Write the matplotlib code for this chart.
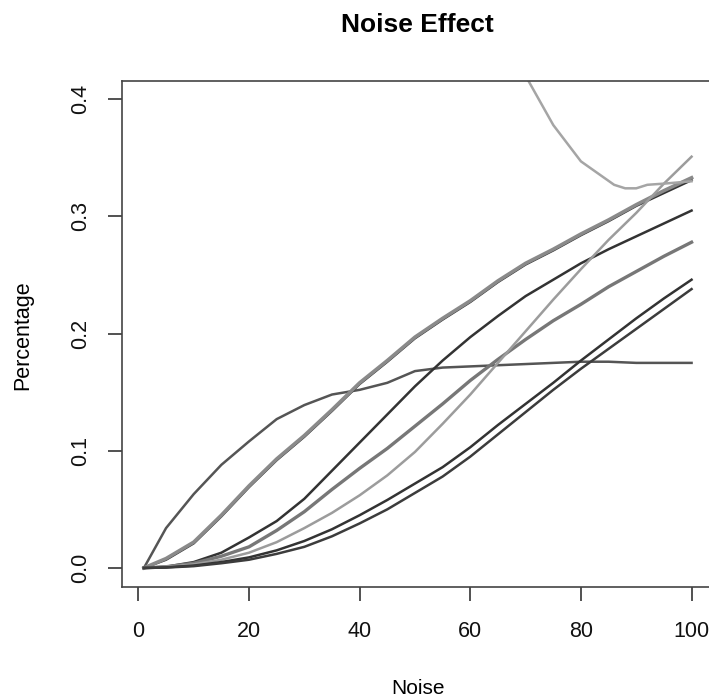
import matplotlib
matplotlib.use("Agg")
import matplotlib.pyplot as plt

plt.rcParams['font.family'] = ['Liberation Sans', 'DejaVu Sans']

# noise levels (x) shared by most series
noise = [1, 5, 10, 15, 20, 25, 30, 35, 40, 45, 50, 55, 60, 65, 70, 75, 80, 85, 90, 95, 100]

sat_curve = [0, 0.034, 0.063, 0.088, 0.108, 0.127, 0.139, 0.148, 0.152, 0.158, 0.168,
             0.171, 0.172, 0.173, 0.174, 0.175, 0.176, 0.176, 0.175, 0.175, 0.175]
upper_gray = [0, 0.008, 0.022, 0.045, 0.070, 0.093, 0.113, 0.135, 0.158, 0.177, 0.197,
              0.213, 0.228, 0.245, 0.260, 0.272, 0.285, 0.297, 0.310, 0.322, 0.333]
upper_dark = [0, 0.007, 0.021, 0.044, 0.069, 0.092, 0.112, 0.134, 0.157, 0.176, 0.196,
              0.212, 0.227, 0.244, 0.259, 0.271, 0.284, 0.296, 0.309, 0.320, 0.331]
mid_dark = [0, 0.001, 0.005, 0.013, 0.026, 0.040, 0.059, 0.083, 0.107, 0.131, 0.155,
            0.177, 0.197, 0.215, 0.232, 0.246, 0.260, 0.272, 0.283, 0.294, 0.305]
mid_gray = [0, 0.001, 0.004, 0.010, 0.018, 0.032, 0.048, 0.067, 0.085, 0.102, 0.121,
            0.140, 0.160, 0.178, 0.195, 0.211, 0.225, 0.240, 0.253, 0.266, 0.278]
steep_light = [0, 0.001, 0.003, 0.007, 0.013, 0.022, 0.034, 0.047, 0.062, 0.079, 0.099,
               0.123, 0.148, 0.175, 0.202, 0.229, 0.255, 0.280, 0.303, 0.328, 0.351]
low_a = [0, 0.0005, 0.002, 0.005, 0.009, 0.015, 0.023, 0.033, 0.045, 0.058, 0.072,
         0.086, 0.103, 0.122, 0.140, 0.158, 0.177, 0.195, 0.213, 0.230, 0.246]
low_b = [0, 0.0003, 0.0015, 0.004, 0.007, 0.012, 0.018, 0.027, 0.038, 0.050, 0.064,
         0.078, 0.095, 0.114, 0.133, 0.152, 0.170, 0.187, 0.204, 0.221, 0.238]

# the one series that comes down from above the plot range
top_x = [65, 70, 75, 80, 83, 86, 88, 90, 92, 95, 100]
top_y = [0.47, 0.42, 0.378, 0.347, 0.337, 0.327, 0.324, 0.324, 0.327, 0.328, 0.330]

xticks = [0, 20, 40, 60, 80, 100]
yticks = [0.0, 0.1, 0.2, 0.3, 0.4]

fig = plt.figure(figsize=(7.09, 6.99), dpi=100)
ax = fig.add_axes([0.1721, 0.1607, 0.8342, 0.7241])

ax.plot(noise, sat_curve, color='#555555', lw=1.8)
ax.plot(noise, upper_dark, color='#333333', lw=1.8)
ax.plot(noise, upper_gray, color='#8a8a8a', lw=2.6)
ax.plot(noise, mid_dark, color='#333333', lw=1.8)
ax.plot(noise, mid_gray, color='#777777', lw=2.4)
ax.plot(noise, steep_light, color='#9c9c9c', lw=1.8)
ax.plot(noise, low_a, color='#333333', lw=1.8)
ax.plot(noise, low_b, color='#3c3c3c', lw=1.8)
ax.plot(top_x, top_y, color='#a5a5a5', lw=1.8)

ax.set_xlim(-2.96, 103.96)
ax.set_ylim(-0.016, 0.416)
ax.set_xticks(xticks)
ax.set_xticklabels([str(t) for t in xticks])
ax.set_yticks(yticks)
ax.set_yticklabels([f"{t:.1f}" for t in yticks])
plt.setp(ax.get_yticklabels(), rotation=90, va='center')

ax.tick_params(direction='out', length=10, width=1.1, color='#222222',
               labelsize=15.5, labelcolor='#111111')
ax.tick_params(axis='x', pad=15)
ax.tick_params(axis='y', pad=12.5)
for s in ax.spines.values():
    s.set_linewidth(1.2)
    s.set_color('#444444')

fig.text(0.589, 1 - 32 / 699, "Noise Effect", ha='center', va='baseline',
         fontsize=19, fontweight='bold')
fig.text(0.589, 1 - 688 / 699, "Noise", ha='center', va='center', fontsize=15)
fig.text(23 / 709, 1 - 335 / 699, "Percentage", ha='center', va='center',
         rotation=90, fontsize=15.5)

fig.savefig("out.png", dpi=100)
